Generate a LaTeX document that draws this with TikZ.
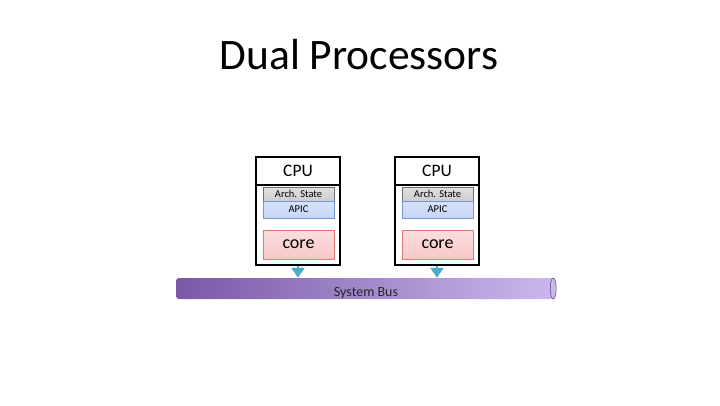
\documentclass[tikz,border=0pt]{standalone}
\usepackage{fontspec}
\setmainfont{Carlito}
\usetikzlibrary{arrows.meta}
\definecolor{arrowc}{RGB}{75,172,198}
\definecolor{busl}{RGB}{122,88,168}
\definecolor{busr}{RGB}{202,184,236}
\definecolor{archf}{RGB}{205,205,205}
\definecolor{archd}{RGB}{110,110,110}
\definecolor{apicf}{RGB}{198,214,246}
\definecolor{apicd}{RGB}{120,150,215}
\definecolor{coref}{RGB}{248,200,200}
\definecolor{cored}{RGB}{225,120,120}
\begin{document}
\begin{tikzpicture}[x=1pt,y=-1pt,
  outerbox/.style={draw=black,line width=1.4pt,fill=white,minimum width=84pt,minimum height=108pt,inner sep=0pt},
  hdrbox/.style={draw=black,line width=1.4pt,minimum width=84pt,minimum height=28pt,inner sep=0pt,font=\fontsize{17.5}{20}\selectfont},
  archbox/.style={draw=archd,line width=0.6pt,top color=archf!60,bottom color=archf,minimum width=71pt,minimum height=14pt,inner sep=0pt,font=\fontsize{10.5}{12}\selectfont},
  apicbox/.style={draw=apicd,line width=0.6pt,top color=apicf!70,bottom color=apicf,minimum width=71pt,minimum height=17pt,inner sep=0pt,font=\fontsize{10.5}{12}\selectfont},
  corebox/.style={draw=cored,line width=0.6pt,top color=coref!60,bottom color=coref,minimum width=71pt,minimum height=29pt,inner sep=0pt,font=\fontsize{18}{21}\selectfont},
  busarrow/.style={draw=arrowc,line width=2pt,-{Triangle[length=10pt,width=13pt]}}
]
\useasboundingbox (0,0) rectangle (720,405);
\node (title) at (359,55) {\fontsize{43.5}{50}\selectfont Dual Processors};

% bus
\node[inner sep=0pt,minimum width=378pt,minimum height=21pt,left color=busl,right color=busr,rounded corners=3pt] (bus) at (365,288.5) {};
\draw[busl!70!black,line width=0.5pt,fill=busr] ([xshift=-1pt]bus.east) ellipse [x radius=3pt,y radius=10.5pt];
\node[font=\fontsize{14}{16}\selectfont,text=black!85] (buslabel) at (366,293) {System Bus};

\foreach \n/\x in {1/298,2/437}{
  \node[outerbox] (cpu\n) at (\x,211) {};
  \node[hdrbox] (hdr\n) at (\x,171) {CPU};
  \node[archbox] (arch\n) at (\x+0.5,194) {Arch. State};
  \node[apicbox] (apic\n) at (\x+0.5,209.5) {APIC};
  \node[corebox] (core\n) at (\x+0.5,244.5) {\raisebox{-1.5pt}{core}};
  \draw[busarrow] (cpu\n.south) -- (cpu\n.south |- bus.north);
}
\end{tikzpicture}
\end{document}
